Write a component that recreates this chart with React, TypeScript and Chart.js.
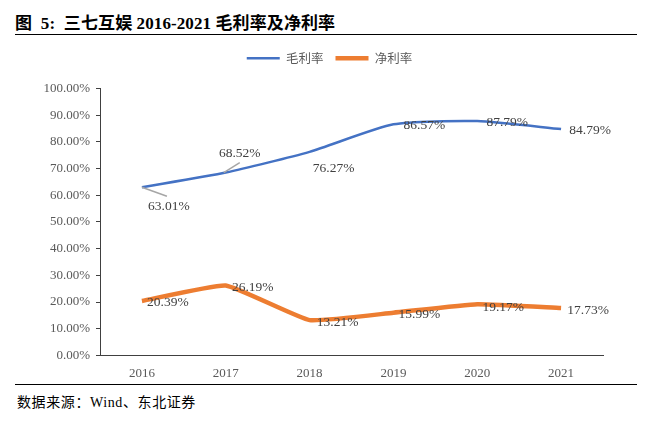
import React, { useEffect, useRef } from "react";
import { Chart, registerables } from "chart.js";

Chart.register(...registerables);

// ---- data ----
const years = ["2016", "2017", "2018", "2019", "2020", "2021"];
const grossMargin = [63.01, 68.52, 76.27, 86.57, 87.79, 84.79];
const netMargin = [20.39, 26.19, 13.21, 15.99, 19.17, 17.73];
const seriesNames = ["毛利率", "净利率"];
const yMin = 0;
const yMax = 100;
const yStep = 10;

// ---- label placement (pixel offsets from each point) ----
const grossLabelOffsets = [
  [27, 19],
  [14, -19],
  [24, 17],
  [31, 1],
  [30, 1],
  [29, 1],
];
const netLabelOffsets = [
  [26, 1],
  [27, 2],
  [28, 2],
  [26, 2],
  [26, 3],
  [27, 2],
];
// leader lines: [index, dx1, dy1, dx2, dy2]
const grossLeaders = [
  [0, 0, 0, 25, 9],
  [1, -2, 0, 14, -10],
];

const BLUE = "#4472C4";
const ORANGE = "#ED7D31";
const SERIF = "'Liberation Serif', 'Times New Roman', serif";
const CJK = "'Noto Sans CJK SC', sans-serif";
const LEGEND_GAP = 14;

const legendGapPlugin = {
  id: "legendGap",
  afterInit(chart: any) {
    const lg = chart.legend;
    if (!lg) return;
    const orig = lg.fit;
    lg.fit = function () {
      orig.call(this);
      this.height += LEGEND_GAP;
    };
  },
};

const labelPlugin = {
  id: "valueLabels",
  afterDatasetsDraw(chart: any) {
    const ctx = chart.ctx;
    ctx.save();
    const gm = chart.getDatasetMeta(0);
    ctx.strokeStyle = "#A6A6A6";
    ctx.lineWidth = 1.5;
    grossLeaders.forEach(([i, x1, y1, x2, y2]) => {
      const p = gm.data[i];
      ctx.beginPath();
      ctx.moveTo(p.x + x1, p.y + y1);
      ctx.lineTo(p.x + x2, p.y + y2);
      ctx.stroke();
    });
    ctx.font = `13.5px ${SERIF}`;
    ctx.fillStyle = "#404040";
    ctx.textAlign = "center";
    ctx.textBaseline = "middle";
    const sets = [
      { values: grossMargin, offs: grossLabelOffsets, idx: 0 },
      { values: netMargin, offs: netLabelOffsets, idx: 1 },
    ];
    sets.forEach(({ values, offs, idx }) => {
      const meta = chart.getDatasetMeta(idx);
      values.forEach((v, i) => {
        const p = meta.data[i];
        ctx.fillText(v.toFixed(2) + "%", p.x + offs[i][0], p.y + offs[i][1]);
      });
    });
    ctx.restore();
  },
};

export default function App() {
  const canvasRef = useRef<HTMLCanvasElement | null>(null);

  useEffect(() => {
    if (!canvasRef.current) return;
    const chart = new Chart(canvasRef.current, {
      type: "line",
      data: {
        labels: years,
        datasets: [
          {
            label: seriesNames[0],
            data: grossMargin,
            borderColor: BLUE,
            backgroundColor: BLUE,
            borderWidth: 2.5,
            pointRadius: 0,
            tension: 0.2,
          },
          {
            label: seriesNames[1],
            data: netMargin,
            borderColor: ORANGE,
            backgroundColor: ORANGE,
            borderWidth: 4.5,
            pointRadius: 0,
            tension: 0.12,
          },
        ],
      },
      options: {
        animation: false,
        responsive: true,
        maintainAspectRatio: false,
        layout: { padding: { top: 0, right: 0, left: 0, bottom: 0 } },
        plugins: {
          tooltip: { enabled: false },
          legend: {
            position: "top",
            labels: {
              usePointStyle: true,
              pointStyle: "line",
              pointStyleWidth: 33,
              boxHeight: 12,
              padding: 12,
              color: "#595959",
              font: { family: CJK, size: 12.5 },
            },
          },
        },
        scales: {
          x: {
            offset: true,
            grid: { drawOnChartArea: false, drawTicks: false, offset: true },
            border: { display: true, color: "#404040", width: 1 },
            ticks: {
              color: "#595959",
              font: { family: SERIF, size: 13 },
              padding: 10,
            },
          },
          y: {
            min: yMin,
            max: yMax,
            afterFit: (s: any) => {
              s.width = 100;
            },
            grid: {
              drawOnChartArea: false,
              drawTicks: true,
              tickLength: 4,
              color: "#404040",
            },
            border: { display: true, color: "#404040", width: 1 },
            ticks: {
              stepSize: yStep,
              color: "#595959",
              font: { family: SERIF, size: 13 },
              padding: 6,
              callback: (v: any) => Number(v).toFixed(2) + "%",
            },
          },
          yRight: {
            position: "right",
            min: yMin,
            max: yMax,
            afterFit: (s: any) => {
              s.width = 56;
            },
            grid: { display: false, drawTicks: false },
            border: { display: false },
            ticks: { display: false },
          },
        },
      },
      plugins: [legendGapPlugin, labelPlugin],
    });
    return () => chart.destroy();
  }, []);

  return (
    <div
      style={{
        position: "fixed",
        left: 0,
        top: 0,
        width: 659,
        height: 421,
        background: "#fff",
        overflow: "hidden",
      }}
    >
      <div
        style={{
          position: "absolute",
          left: 15,
          top: 14,
          fontSize: 17,
          fontWeight: "bold",
          fontFamily: `'Liberation Serif', 'Noto Sans CJK SC', serif`,
          color: "#000",
          whiteSpace: "nowrap",
          lineHeight: "20px",
          letterSpacing: 0.1,
        }}
      >
        图&nbsp;&nbsp;5:&nbsp;&nbsp;三七互娱 2016-2021 毛利率及净利率
      </div>
      <div
        style={{
          position: "absolute",
          left: 15,
          top: 34,
          width: 622,
          height: 1,
          background: "#000",
        }}
      />
      <div
        style={{
          position: "absolute",
          left: 0,
          top: 40,
          width: 659,
          height: 351,
        }}
      >
        <canvas ref={canvasRef} />
      </div>
      <div
        style={{
          position: "absolute",
          left: 15,
          top: 384,
          width: 622,
          height: 1,
          background: "#000",
        }}
      />
      <div
        style={{
          position: "absolute",
          left: 17,
          top: 394,
          fontSize: 14,
          fontFamily: `'Liberation Serif', 'Noto Sans CJK SC', serif`,
          color: "#000",
          whiteSpace: "nowrap",
          lineHeight: "18px",
          letterSpacing: 0.6,
        }}
      >
        数据来源：Wind、东北证券
      </div>
    </div>
  );
}
